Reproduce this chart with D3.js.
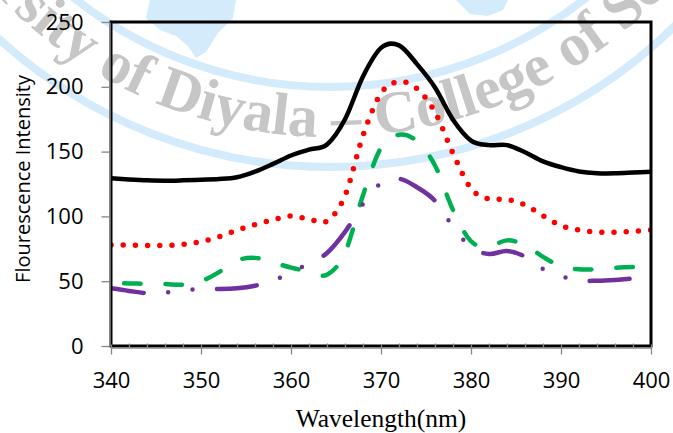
<!DOCTYPE html>
<html>
<head>
<meta charset="utf-8">
<script src="https://cdn.jsdelivr.net/npm/d3@7"></script>
<style>
  body { margin: 0; background: #fff; }
  svg { display: block; }
</style>
</head>
<body>
<svg width="673" height="433"></svg>
<script>
// ---- Data
const wavelengths = [340, 342, 344, 346, 348, 350, 352, 354, 356, 358, 360, 362, 364, 366, 368, 370,
                     372, 374, 376, 378, 380, 382, 384, 386, 388, 390, 392, 394, 396, 398, 400];
const blackSeries  = [129.4, 128.5, 127.8, 127.5, 127.8, 128.3, 128.8, 130.2, 134.5, 140.5, 147, 151.5, 155.5, 175, 208, 230,
                      232, 217.5, 199.5, 174.5, 158.5, 155, 155, 149.5, 142.5, 138, 134.7, 133.3, 133.2, 133.8, 134.5];
const redSeries    = [78, 77.8, 77.6, 77.6, 78.4, 80.5, 84.3, 89.3, 93.6, 97.3, 100.3, 97.8, 96.5, 116, 162.4, 195,
                      204, 198.5, 180.5, 148.6, 121.5, 113.4, 113.2, 108.8, 100.5, 92.8, 89.5, 88, 87.7, 88.5, 89.5];
const greenSeries  = [48.5, 48.3, 48, 47.8, 47.3, 50, 57, 66, 68, 64.5, 60.5, 57.5, 55, 72, 116.4, 153,
                      163, 158, 139.3, 105, 80.8, 77, 81.5, 78, 68.8, 61.5, 59.2, 59.3, 60.3, 60.9, 61.2];
const purpleSeries = [44.5, 42.5, 40.8, 41.2, 42.8, 44.2, 44, 44.5, 46.5, 50.5, 56.6, 64, 71.7, 88, 109.5, 125.5,
                      129, 122.5, 112, 92, 76, 71, 73.3, 69, 59.5, 54, 50.5, 50.4, 51, 52, 52.5];

const xTicks = [340, 350, 360, 370, 380, 390, 400];
const xMinorTicks = [342, 344, 346, 348, 352, 354, 356, 358, 362, 364, 366, 368, 372, 374, 376, 378,
                     382, 384, 386, 388, 392, 394, 396, 398];
const yTicks = [0, 50, 100, 150, 200, 250];
const xTitle = 'Wavelength(nm)';
const yTitle = 'Flourescence Intensity';
const watermark = 'University of Diyala – College of Science';

const series = [
    { values: blackSeries,  color: '#000000', width: 4.5, dash: null,                    offset: 0 },
    { values: redSeries,    color: '#ff0000', width: 5.5, dash: '0 12.2',                offset: 0 },
    { values: greenSeries,  color: '#00b050', width: 4.5, dash: '16.5 25',               offset: 28.5 },
    { values: purpleSeries, color: '#7030a0', width: 4.5, dash: '40 24.5 0 24.5 0 24.5', offset: 7 }
];

const svg = d3.select('svg');
const margens = { left: 111, right: 22, top: 22, bottom: 87 };
const innerWidth = +svg.attr('width') - margens.left - margens.right;
const innerHeight = +svg.attr('height') - margens.top - margens.bottom;

// ---- Watermark (behind everything)
const wm = svg.append('g').attr('id', 'watermark');
const cx = 330, cy = -325;
wm.append('path')
    .attr('d', 'M150,0 L236,0 L233,18 L218,33 L206,52 L196,58 L188,46 L176,36 L160,30 L146,18 Z')
    .attr('fill', '#d3ebfb');
wm.append('path')
    .attr('d', 'M456,0 L508,0 L503,10 L488,16 L470,14 Z')
    .attr('fill', '#d3ebfb');
[412, 492].forEach(r => {
    wm.append('circle')
        .attr('cx', cx).attr('cy', cy).attr('r', r)
        .attr('fill', 'none')
        .attr('stroke', '#d3ebfb')
        .attr('stroke-width', 8);
});
const rText = 462;
wm.append('path')
    .attr('id', 'wmArc')
    .attr('fill', 'none')
    .attr('d', `M${cx - rText},${cy} A${rText},${rText} 0 0 0 ${cx + rText},${cy}`);
wm.append('text')
    .attr('font-family', '"Liberation Serif", serif')
    .attr('font-weight', 'bold')
    .attr('font-size', 60)
    .attr('fill', '#c6c6c6')
    .attr('text-anchor', 'middle')
    .append('textPath')
    .attr('href', '#wmArc')
    .attr('startOffset', Math.PI * rText / 2 - 10)
    .text(watermark);

// ---- Main group
const g = svg.append('g')
    .attr('id', 'group')
    .attr('transform', `translate(${margens.left}, ${margens.top})`);

// ---- Scales
const mapX = d3.scaleLinear().domain([340, 400]).range([0, innerWidth]);
const mapY = d3.scaleLinear().domain([0, 250]).range([innerHeight, 0]);

g.append('clipPath').attr('id', 'plotClip')
    .append('rect').attr('width', innerWidth).attr('height', innerHeight);

// ---- Lines
const line = d3.line()
    .x((d, i) => mapX(wavelengths[i]))
    .y(d => mapY(d))
    .curve(d3.curveCardinal.tension(0));

g.append('g').attr('clip-path', 'url(#plotClip)')
    .selectAll('path.line')
    .data(series)
    .join('path')
    .attr('class', 'line')
    .attr('d', d => line(d.values))
    .style('fill', 'none')
    .style('stroke', d => d.color)
    .style('stroke-width', d => d.width)
    .style('stroke-linecap', 'round')
    .style('stroke-linejoin', 'round')
    .style('stroke-dasharray', d => d.dash)
    .style('stroke-dashoffset', d => d.offset);

// ---- Plot border
g.append('rect')
    .attr('width', innerWidth)
    .attr('height', innerHeight)
    .style('fill', 'none')
    .style('stroke', '#000')
    .style('stroke-width', 3);

// ---- Axes
const axisColor = '#868686';

const xMinor = d3.axisBottom(mapX).tickValues(xMinorTicks).tickSize(-4).tickSizeOuter(0).tickFormat('');
g.append('g')
    .attr('transform', `translate(0, ${innerHeight + 1.5})`)
    .call(xMinor)
    .call(a => a.select('.domain').remove())
    .call(a => a.selectAll('line').attr('stroke', axisColor).attr('stroke-width', 1.3));

const xAxis = d3.axisBottom(mapX).tickValues(xTicks).tickSize(7).tickSizeOuter(0).tickPadding(18);
g.append('g')
    .attr('id', 'axisX')
    .attr('transform', `translate(0, ${innerHeight + 1.5})`)
    .call(xAxis)
    .call(a => a.select('.domain').attr('stroke', axisColor).attr('stroke-width', 1.6))
    .call(a => a.selectAll('line').attr('stroke', axisColor).attr('stroke-width', 1.3).attr('y1', -3))
    .call(a => a.selectAll('text')
        .attr('fill', '#000')
        .style('font-family', '"Open Sans", sans-serif')
        .style('font-size', '22px'));

const yAxis = d3.axisLeft(mapY).tickValues(yTicks).tickSize(8).tickSizeOuter(0).tickPadding(18);
g.append('g')
    .attr('id', 'axisY')
    .attr('transform', 'translate(-1.5, 0)')
    .call(yAxis)
    .call(a => a.select('.domain').attr('stroke', axisColor).attr('stroke-width', 1.6))
    .call(a => a.selectAll('line').attr('stroke', axisColor).attr('stroke-width', 1.3))
    .call(a => a.selectAll('text')
        .attr('fill', '#000')
        .style('font-family', '"Open Sans", sans-serif')
        .style('font-size', '22px'));

// ---- Axis titles
svg.append('text')
    .attr('x', 381)
    .attr('y', 427)
    .attr('text-anchor', 'middle')
    .style('font-family', '"Liberation Serif", serif')
    .style('font-size', '25.5px')
    .text(xTitle);

svg.append('text')
    .attr('transform', 'translate(30, 179) rotate(-90)')
    .attr('text-anchor', 'middle')
    .style('font-family', '"Open Sans", sans-serif')
    .style('font-size', '20px')
    .text(yTitle);
</script>
</body>
</html>
